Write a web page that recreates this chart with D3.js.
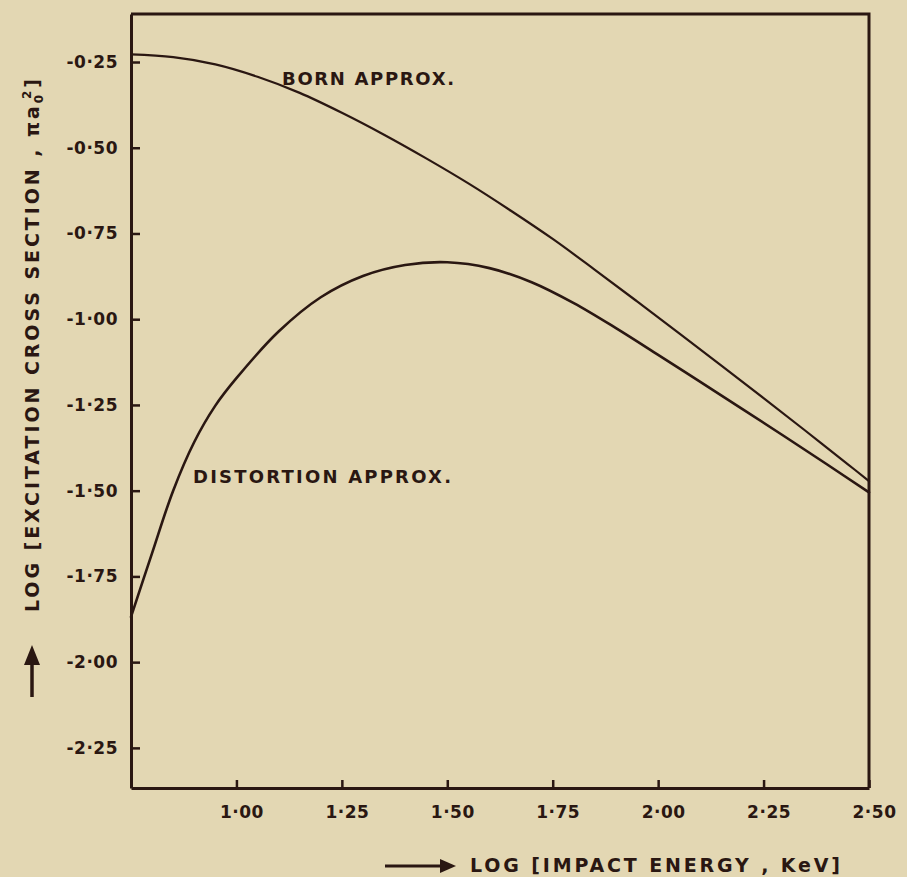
<!DOCTYPE html>
<html>
<head>
<meta charset="utf-8">
<script src="https://cdn.jsdelivr.net/npm/d3@7"></script>
<style>
  html, body { margin: 0; padding: 0; background: #e3d7b3; }
  svg { display: block; }
  text { font-family: "DejaVu Sans", sans-serif; fill: #2a1712; }
</style>
</head>
<body>
<svg id="chart" width="907" height="877"></svg>
<script>
// Excitation cross section vs impact energy (log-log), Born vs distortion approx.

const xTicks = [1.00, 1.25, 1.50, 1.75, 2.00, 2.25, 2.50];
const yTicks = [-0.25, -0.50, -0.75, -1.00, -1.25, -1.50, -1.75, -2.00, -2.25];

// log E (keV) -> log sigma (pi a0^2)
const bornX = [0.75, 0.85, 0.95, 1.05, 1.15, 1.25, 1.35, 1.45, 1.55, 1.65, 1.75, 1.85, 1.95, 2.05, 2.15, 2.25, 2.35, 2.45, 2.50];
const bornY = [-0.228, -0.236, -0.257, -0.293, -0.340, -0.398, -0.462, -0.531, -0.604, -0.683, -0.766, -0.856, -0.948, -1.041, -1.135, -1.230, -1.326, -1.423, -1.472];

const distX = [0.75, 0.80, 0.85, 0.90, 0.95, 1.00, 1.10, 1.20, 1.30, 1.40, 1.50, 1.60, 1.70, 1.80, 1.90, 2.00, 2.10, 2.20, 2.30, 2.40, 2.50];
const distY = [-1.868, -1.682, -1.500, -1.358, -1.252, -1.172, -1.036, -0.936, -0.874, -0.842, -0.834, -0.851, -0.892, -0.953, -1.026, -1.104, -1.183, -1.262, -1.342, -1.423, -1.505];

const ink = "#2a1712";

const svg = d3.select("#chart");

const plot = { left: 131, right: 869, top: 14, bottom: 788 };

const x = d3.scaleLinear().domain([0.75, 2.5]).range([plot.left, plot.right]);
const y = d3.scaleLinear().domain([-0.11, -2.367]).range([plot.top, plot.bottom]);

const fmt = d => d.toFixed(2).replace(".", "\u00B7");

// frame (top + right edges)
svg.append("path")
  .attr("d", `M${plot.left},${plot.top}H${plot.right}V${plot.bottom}`)
  .attr("fill", "none")
  .attr("stroke", ink)
  .attr("stroke-width", 3);

// axes — ticks point inwards like the hand-drawn original
const yAxis = svg.append("g")
  .attr("transform", `translate(${plot.left},0)`)
  .call(d3.axisLeft(y).tickValues(yTicks).tickSizeInner(-9).tickSizeOuter(0)
    .tickPadding(13).tickFormat(fmt));

const xAxis = svg.append("g")
  .attr("transform", `translate(0,${plot.bottom})`)
  .call(d3.axisBottom(x).tickValues(xTicks).tickSizeInner(-8).tickSizeOuter(0)
    .tickPadding(18).tickFormat(fmt));

for (const ax of [xAxis, yAxis]) {
  ax.select(".domain").attr("stroke", ink).attr("stroke-width", 3);
  ax.selectAll(".tick line").attr("stroke", ink).attr("stroke-width", 2.5);
  ax.selectAll(".tick text")
    .attr("fill", ink)
    .style("font-family", "DejaVu Sans, sans-serif")
    .style("font-size", "17px")
    .style("font-weight", "bold")
    .style("letter-spacing", "0.5px");
}
xAxis.selectAll(".tick text").attr("dx", 5);

// curves
const line = d3.line()
  .x(d => x(d[0]))
  .y(d => y(d[1]))
  .curve(d3.curveCatmullRom.alpha(0.5));

const curves = [
  { xs: bornX, ys: bornY, width: 2.2 },
  { xs: distX, ys: distY, width: 2.6 },
];

svg.selectAll("path.curve")
  .data(curves)
  .enter()
  .append("path")
  .attr("class", "curve")
  .attr("d", c => line(c.xs.map((v, i) => [v, c.ys[i]])))
  .attr("fill", "none")
  .attr("stroke", ink)
  .attr("stroke-width", c => c.width)
  .attr("stroke-linecap", "round");

// stretch a text element's letter-spacing so it spans `target` px
function fitText(sel, target) {
  const n = sel.text().length;
  const w = sel.node().getComputedTextLength();
  sel.style("letter-spacing", `${(target - w) / Math.max(n - 1, 1)}px`);
}

// curve labels
const born = svg.append("text")
  .attr("x", 282).attr("y", 85)
  .style("font-size", "18px")
  .style("font-weight", "bold")
  .text("BORN APPROX.");
fitText(born, 172);

const dist = svg.append("text")
  .attr("x", 193).attr("y", 483)
  .style("font-size", "18px")
  .style("font-weight", "bold")
  .text("DISTORTION APPROX.");
fitText(dist, 258);

// x axis title with arrow
svg.append("line")
  .attr("x1", 385).attr("x2", 442)
  .attr("y1", 866).attr("y2", 866)
  .attr("stroke", ink).attr("stroke-width", 3);
svg.append("path")
  .attr("d", "M456,866L440,859L440,873Z")
  .attr("fill", ink);

const xTitle = svg.append("text")
  .attr("x", 470).attr("y", 872)
  .style("font-size", "19px")
  .style("font-weight", "bold")
  .text("LOG [IMPACT ENERGY , KeV]");
fitText(xTitle, 370);

// y axis title with arrow
svg.append("line")
  .attr("x1", 32).attr("x2", 32)
  .attr("y1", 697).attr("y2", 662)
  .attr("stroke", ink).attr("stroke-width", 3.5);
svg.append("path")
  .attr("d", "M32,645L24,665L40,665Z")
  .attr("fill", ink);

const yTitle = svg.append("text")
  .attr("transform", "translate(39,612) rotate(-90)")
  .style("font-size", "19px")
  .style("font-weight", "bold");
yTitle.append("tspan").text("LOG [EXCITATION CROSS SECTION , \u03C0a");
yTitle.append("tspan").attr("dy", 4).style("font-size", "12px").text("0");
yTitle.append("tspan").attr("dy", -12).attr("dx", -7).style("font-size", "12px").text("2");
yTitle.append("tspan").attr("dy", 8).text("]");
fitText(yTitle, 540);
</script>
</body>
</html>
